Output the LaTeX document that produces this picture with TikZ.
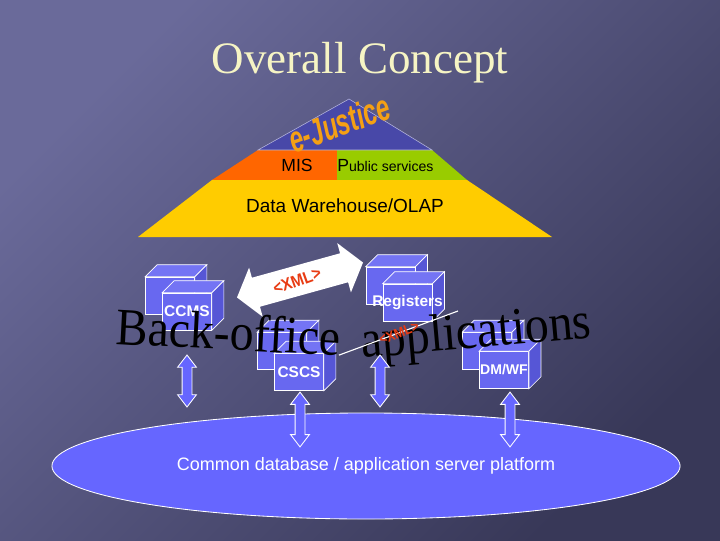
\documentclass[tikz,border=0pt]{standalone}
\usepackage{fontspec}
\setmainfont{Liberation Serif}
\setsansfont{Liberation Sans}
\usetikzlibrary{shapes.geometric,shapes.arrows}

\definecolor{slidetop}{RGB}{106,106,154}
\definecolor{slidebot}{RGB}{56,56,88}
\definecolor{titlecream}{RGB}{246,244,196}
\definecolor{misorange}{RGB}{255,102,0}
\definecolor{pubgreen}{RGB}{153,204,0}
\definecolor{dwyellow}{RGB}{255,204,0}
\definecolor{peakblue}{RGB}{72,72,168}
\definecolor{justorange}{RGB}{245,160,20}
\definecolor{cubefront}{RGB}{104,104,240}
\definecolor{cubetop}{RGB}{116,116,244}
\definecolor{cubeside}{RGB}{86,86,214}
\definecolor{dbblue}{RGB}{102,102,255}
\definecolor{xmlred}{RGB}{232,60,20}

\begin{document}
\begin{tikzpicture}[x=0.025cm, y=0.025cm,
    cube/.style={draw=white, fill=cubefront, line width=0.5pt,
        minimum width=34.9pt, minimum height=26.3pt, inner sep=0pt},
    cubetext/.style={text=white, inner sep=0pt, font=\sffamily\bfseries\fontsize{11}{13}\selectfont},
    xmltext/.style={text=xmlred, inner sep=0pt, font=\sffamily\bfseries\fontsize{12}{14}\selectfont},
    updown/.style={double arrow, rotate=90, fill=dbblue, draw=white, line width=0.6pt,
        inner xsep=0pt, inner ysep=3.2pt, double arrow head extend=3.2pt,
        double arrow tip angle=75}]

    % ==========================================
    % MACRO: top and side faces of a cube node
    % ==========================================
    \def\cubefaces#1{
        \filldraw[fill=cubetop, draw=white, line width=0.5pt]
            (#1.north west) -- ++(12,12) -- ([shift={(12,12)}]#1.north east)
            -- (#1.north east) -- cycle;
        \filldraw[fill=cubeside, draw=white, line width=0.5pt]
            (#1.north east) -- ++(12,12) -- ([shift={(12,12)}]#1.south east)
            -- (#1.south east) -- cycle;
    }

    % ==========================================
    % SLIDE BACKGROUND AND TITLE
    % ==========================================
    \useasboundingbox (0,0) rectangle (720,540);
    \shade[top color=slidetop, bottom color=slidebot, shading angle=45]
        (0,0) rectangle (720,540);
    \node[anchor=base, text=titlecream, font=\fontsize{32}{36}\selectfont]
        (title) at (360,466) {Overall Concept};

    % ==========================================
    % PYRAMID
    % ==========================================
    \fill[dwyellow] (212,360) -- (467,360) -- (552,303) -- (138,303) -- cycle;
    \fill[misorange] (258,390) -- (337,390) -- (337,360) -- (212,360) -- cycle;
    \fill[pubgreen] (337,390) -- (432,390) -- (467,360) -- (337,360) -- cycle;
    \filldraw[fill=peakblue, draw=white!60!peakblue, line width=0.4pt]
        (258,390) -- (349,441) -- (432,390) -- cycle;

    \node[anchor=base, font=\sffamily\fontsize{12.5}{14}\selectfont]
        (mis) at (297,368) {MIS};
    \node[anchor=base west, inner sep=0pt, font=\sffamily\fontsize{10}{12}\selectfont]
        (public) at (337,368) {{\fontsize{12.5}{14}\selectfont P}ublic services};
    \node[anchor=base, font=\sffamily\fontsize{13.5}{16}\selectfont]
        (dwh) at (345,327) {Data Warehouse/OLAP};

    % WordArt label on the peak
    \node[rotate=20, xscale=0.72, yscale=1.1, inner sep=0pt, text=justorange,
        font=\sffamily\bfseries\itshape\fontsize{24}{28}\selectfont]
        (ejustice) at (339,417) {e-Justice};

    % ==========================================
    % XML EXCHANGE ARROW
    % ==========================================
    \node[double arrow, fill=white, rotate=15.5, minimum height=93pt,
        inner xsep=0pt, inner ysep=10.5pt, double arrow head extend=7.5pt,
        double arrow tip angle=105]
        (xmlarrow) at (300,260) {};
    \node[xmltext, rotate=20, xscale=0.9] (xmltop) at (297,259) {<XML>};

    % ==========================================
    % BACK-OFFICE CUBES
    % ==========================================
    % CCMS
    \node[cube] (ccmsback) at (170,244.5) {};
    \cubefaces{ccmsback}
    \node[cube] (ccms) at (187,228.5) {};
    \cubefaces{ccms}
    \node[cubetext] (ccmslabel) at (ccms) {CCMS};

    % Registers
    \node[cube] (regback) at (390.5,254.5) {};
    \cubefaces{regback}
    \node[cube] (reg) at (407.5,237.5) {};
    \cubefaces{reg}
    \node[cubetext] (reglabel) at (reg) {Registers};

    % CSCS
    \node[cube] (cscsback) at (282,189) {};
    \cubefaces{cscsback}
    \node[cube] (cscs) at (299,168) {};
    \cubefaces{cscs}
    \node[cubetext] (cscslabel) at (cscs) {CSCS};

    % DM/WF
    \node[cube] (dmwfback) at (487,189) {};
    \cubefaces{dmwfback}
    \node[cube] (dmwf) at (504,170) {};
    \cubefaces{dmwf}
    \node[cubetext, font=\sffamily\bfseries\fontsize{10}{12}\selectfont]
        (dmwflabel) at (dmwf) {DM/WF};

    % Big WordArt caption
    \node[anchor=base west, rotate=-3, yscale=1.1, inner sep=0pt, font=\fontsize{34}{40}\selectfont]
        (backoffice) at (115,196) {Back-office};
    \node[anchor=base west, rotate=5, yscale=1.1, inner sep=0pt, font=\fontsize{34}{40}\selectfont]
        (applications) at (362,182) {applications};

    % Thin XML link
    \coordinate (xmlstart) at ([shift={(15,-2)}]cscs.north east);
    \coordinate (xmlend) at (458,229);
    \draw[white, line width=0.8pt] (xmlstart) -- (xmlend);
    \node[xmltext, rotate=21, xscale=0.9, font=\sffamily\bfseries\fontsize{10}{12}\selectfont]
        (xmlbottom) at (399,207) {<XML>};

    % ==========================================
    % COMMON PLATFORM
    % ==========================================
    \node[ellipse, fill=dbblue, draw=white, line width=0.6pt, minimum width=446.7pt,
        minimum height=75.4pt, inner sep=0pt, text=white,
        font=\sffamily\fontsize{12.8}{15}\selectfont]
        (platform) at (366,74) {Common database / application server platform};

    % Vertical links to the platform
    \node[updown, minimum height=37pt] (ccmslink) at (187,159) {};
    \node[updown, minimum height=37pt] (midlink) at (380,159) {};
    \node[updown, minimum height=39pt] (cscslink) at (300,120.5) {};
    \node[updown, minimum height=39pt] (dmwflink) at (510,120.5) {};

\end{tikzpicture}
\end{document}
